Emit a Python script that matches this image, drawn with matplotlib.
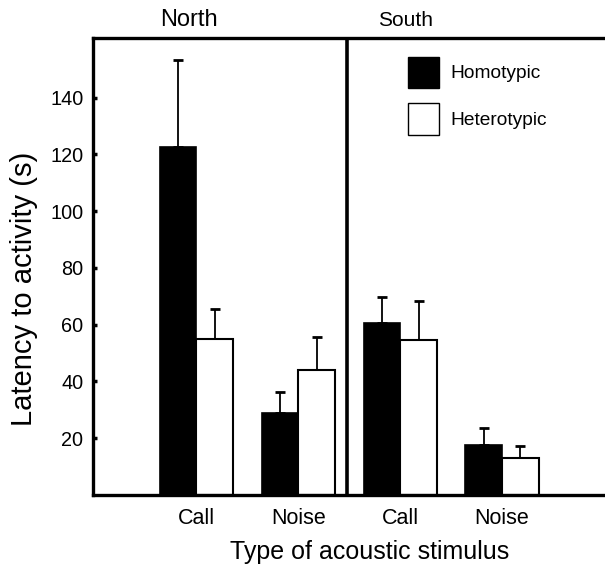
import numpy as np
import matplotlib
matplotlib.use('Agg')
import matplotlib.pyplot as plt
from matplotlib.patches import Patch

plt.rcParams['font.family'] = ['Liberation Sans', 'DejaVu Sans']

#%% dane
stimulus = ['Call', 'Noise', 'Call', 'Noise']
homo = [122.7, 28.9, 60.5, 17.5]
homo_sd = [30.7, 7.4, 9.4, 6.1]
hetero = [55.0, 44.1, 54.7, 12.9]
hetero_sd = [10.6, 11.7, 13.8, 4.5]

#%% wykres
fig = plt.figure(figsize=(6.05, 5.64), dpi=100)
ax = fig.add_axes([93/605, 69/564, 512/605, 457/564])

x = np.arange(len(stimulus))
w = 0.36
ax.bar(x - w/2, homo, w, color='black', edgecolor='black', lw=1.2, zorder=2)
ax.bar(x + w/2, hetero, w, color='white', edgecolor='black', lw=1.5, zorder=2)
ax.errorbar(x - w/2, homo, yerr=[np.zeros(4), homo_sd], fmt='none', ecolor='black',
            elinewidth=1.3, capsize=3.3, capthick=2, zorder=1)
ax.errorbar(x + w/2, hetero, yerr=[np.zeros(4), hetero_sd], fmt='none', ecolor='black',
            elinewidth=1.3, capsize=3.3, capthick=2, zorder=1)

ax.axvline(1.48, c='black', lw=2.6)

ax.set_xlim(-1.015, 4.01)
ax.set_ylim(0, 161)
ax.set_yticks(range(20, 160, 20))
ax.set_xticks(x)
ax.set_xticklabels(stimulus)
ax.tick_params(axis='y', direction='in', length=3, width=2.5, labelsize=14.3, pad=7)
ax.tick_params(axis='x', length=0, labelsize=15.5, pad=9)

for s in ['left', 'top', 'bottom']:
    ax.spines[s].set_linewidth(2.4)
ax.spines['right'].set_visible(False)

ax.set_xlabel('Type of acoustic stimulus', fontsize=18)
ax.xaxis.set_label_coords((370-93)/512, -0.098)
ax.set_ylabel('Latency to activity (s)', fontsize=21)
ax.yaxis.set_label_coords(-0.107, 0.45)

fig.text(189/605, 1-20/564, 'North', fontsize=17, ha='center', va='center')
fig.text(406/605, 1-20/564, 'South', fontsize=15, ha='center', va='center')

handles = [Patch(facecolor='black', edgecolor='black', lw=1),
           Patch(facecolor='white', edgecolor='black', lw=1)]
ax.legend(handles, ['Homotypic', 'Heterotypic'], loc='upper left',
          bbox_to_anchor=((408-93)/512, 1-(56.7-38)/457), frameon=False,
          fontsize=13.8, handlelength=1.6, handleheight=2.15, labelspacing=0.78,
          handletextpad=0.62, borderpad=0, borderaxespad=0)

fig.savefig('out.png', dpi=100)
